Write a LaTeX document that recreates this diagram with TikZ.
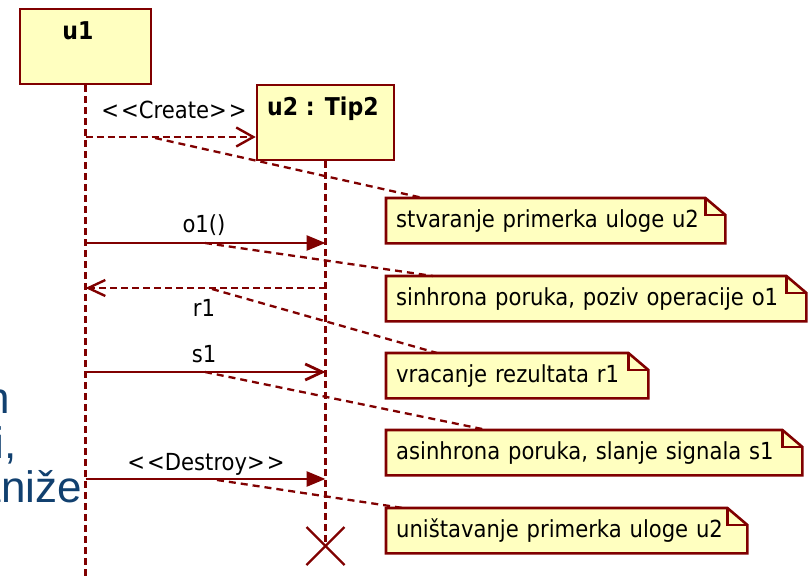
\documentclass[tikz,border=0pt]{standalone}
\usepackage{fontspec}
\setmainfont{DejaVu Sans Condensed}
\newfontfamily\slidefont{Liberation Sans}
\usetikzlibrary{arrows.meta,backgrounds}
\definecolor{umlred}{HTML}{800000}
\definecolor{notefill}{HTML}{FFFFC0}
\definecolor{slideblue}{HTML}{11406F}
\newcommand\guil[1]{<\kern2pt<#1>\kern2pt>}
\begin{document}
\begin{tikzpicture}[x=1pt,y=-1pt,
  every node/.style={font=\fontsize{23.5}{27}\selectfont, text=black},
  object/.style={draw=umlred, fill=notefill, line width=2.6pt, minimum height=75pt, inner sep=0pt},
  objname/.style={font=\fontsize{24.5}{28}\selectfont\bfseries, inner sep=0pt},
  lifeline/.style={draw=umlred, line width=2.4pt, dash pattern=on 7pt off 4pt},
  callmsg/.style={draw=umlred, line width=2.8pt, -{Triangle[length=19pt,width=15pt]}},
  signalmsg/.style={draw=umlred, line width=2.8pt, -{Straight Barb[length=17pt,width=16pt]}},
  createmsg/.style={draw=umlred, line width=2.4pt, dash pattern=on 7pt off 4pt, -{Straight Barb[length=17pt,width=19pt]}},
  returnmsg/.style={draw=umlred, line width=2.4pt, dash pattern=on 7pt off 4pt, -{Straight Barb[length=17pt,width=16pt]}},
  msglabel/.style={anchor=base, inner sep=0pt},
  notebox/.style={anchor=north west, minimum height=45pt, inner xsep=10pt, inner ysep=0pt, align=left},
  noteline/.style={draw=umlred, line width=2.6pt},
  notelink/.style={draw=umlred, line width=2.3pt, dash pattern=on 7pt off 5pt},
  slidetext/.style={font=\slidefont\fontsize{44}{50}\selectfont, text=slideblue, anchor=base east, inner sep=0pt}
]
\useasboundingbox (0,0) rectangle (811,578);

% text of the slide underneath
\node[slidetext] (t1) at (10,413) {n};
\node[slidetext] (t2) at (17,458) {i,};
\node[slidetext] (t3) at (82,502) {aniže};

% participants
\node[object, minimum width=131pt] (u1) at (85.5,46.5) {};
\node[objname, anchor=base] (u1name) at (78,40) {u1};
\node[object, minimum width=137pt] (u2) at (325.5,122.5) {};
\node[objname, anchor=base west] (u2name) at (267,115) {u2 : Tip2};

% lifelines
\coordinate (u1end) at (u1.south |- 0,578);
\coordinate (kill) at (u2.south |- 0,546);
\draw[lifeline] (u1.south) -- (u1end);
\draw[lifeline] (u2.south) -- (kill);
\draw[umlred, line width=2.4pt] (kill) ++(-19,-19) -- ++(38,38);
\draw[umlred, line width=2.4pt] (kill) ++(19,-19) -- ++(-38,38);

% messages
\coordinate (c1) at (u1.south |- 0,137);
\coordinate (o1a) at (u1.south |- 0,243);
\coordinate (o1b) at (u2.south |- 0,243);
\coordinate (r1a) at (u2.south |- 0,288);
\coordinate (r1b) at (u1.south |- 0,288);
\coordinate (s1a) at (u1.south |- 0,372);
\coordinate (s1b) at (u2.south |- 0,372);
\coordinate (d1a) at (u1.south |- 0,479);
\coordinate (d1b) at (u2.south |- 0,479);

\draw[createmsg] (c1) -- (u2.west |- c1);
\draw[callmsg] (o1a) -- (o1b);
\draw[returnmsg] (r1a) -- (r1b);
\draw[signalmsg] (s1a) -- (s1b);
\draw[callmsg] (d1a) -- (d1b);

\node[msglabel] (lc) at (174,118) {\guil{Create}};
\node[msglabel] (lo) at (204,232) {o1()};
\node[msglabel] (lr) at (204,316) {r1};
\node[msglabel] (ls) at (204,362) {s1};
\node[msglabel] (ld) at (206,470) {\guil{Destroy}};

% notes
\node[notebox, text width=319pt] (n1) at (386,198) {stvaranje primerka uloge u2};
\node[notebox, text width=400pt] (n2) at (386,276) {sinhrona poruka, poziv operacije o1};
\node[notebox, text width=242pt] (n3) at (386,353) {vracanje rezultata r1};
\node[notebox, text width=396pt] (n4) at (386,430) {asinhrona poruka, slanje signala s1};
\node[notebox, text width=341pt] (n5) at (386,508) {uništavanje primerka uloge u2};

\begin{scope}[on background layer]
\foreach \n in {n1,n2,n3,n4,n5}{
  \filldraw[noteline, fill=notefill] (\n.south west) -- (\n.north west)
    -- ([xshift=-20pt]\n.north east) -- ([yshift=-17pt]\n.north east)
    -- (\n.south east) -- cycle;
  \draw[noteline] ([xshift=-20pt]\n.north east) -- ++(0,17) -- ++(20,0);
}
\end{scope}

% note anchors
\coordinate (k1) at (155,138);
\coordinate (k2) at (205,243);
\coordinate (k3) at (212,289);
\coordinate (k4) at (205,372);
\coordinate (k5) at (217,480);
\draw[notelink] (k1) -- ([xshift=37pt]n1.north west);
\draw[notelink] (k2) -- ([xshift=47pt]n2.north west);
\draw[notelink] (k3) -- ([xshift=51pt]n3.north west);
\draw[notelink] (k4) -- ([xshift=101pt]n4.north west);
\draw[notelink] (k5) -- ([xshift=17pt]n5.north west);
\end{tikzpicture}
\end{document}
